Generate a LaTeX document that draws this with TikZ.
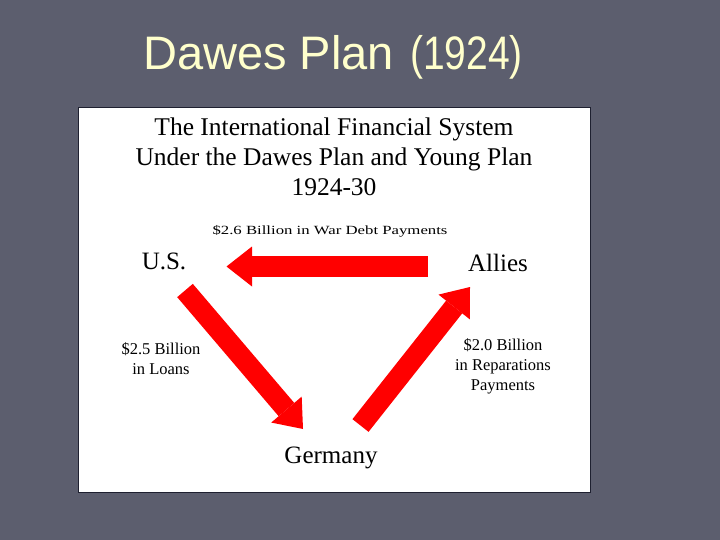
\documentclass[tikz,border=0pt]{standalone}
\usepackage{fontspec}
\setmainfont{Liberation Serif}
\newfontfamily\titlefont{Liberation Sans}
\usetikzlibrary{arrows.meta}
\definecolor{slidebg}{HTML}{5C5E6E}
\definecolor{titlecream}{HTML}{FFFFCC}
\definecolor{boxedge}{HTML}{1E2030}
\definecolor{flowred}{HTML}{FF0000}
\begin{document}
\begin{tikzpicture}[x=1pt,y=-1pt,
  flow/.style={draw=flowred, line width=20.5pt, line cap=butt,
    -{Triangle[width=40pt,length=25.5pt,line width=0pt]}},
  slidetitle/.style={font=\titlefont\fontsize{47}{50}\selectfont, text=titlecream, inner sep=0pt, anchor=base west},
  heading/.style={font=\fontsize{25.5}{30}\selectfont, align=center, inner sep=0pt, anchor=north},
  party/.style={font=\fontsize{25}{28}\selectfont, inner sep=0pt, anchor=base},
  amount/.style={font=\fontsize{16.5}{20}\selectfont, align=center, inner sep=0pt, anchor=north},
  smallamount/.style={font=\fontsize{12.5}{14}\selectfont, inner sep=0pt, anchor=base}]
\useasboundingbox (0,0) rectangle (720,540);
\fill[slidebg] (0,0) rectangle (720,540);
% slide title
\node[slidetitle] (title) at (143,70) {Dawes Plan};
\node[slidetitle] (year) at (410,70) {\scalebox{0.83}[1]{(1924)}};
% white panel
\draw[boxedge, fill=white, line width=1pt] (78,108) rectangle (590,492);
\node[heading] (head) at (334,117.5) {The International Financial System\\Under the Dawes Plan and Young Plan\\1924-30};
% parties
\node[party] (us) at (164,269) {U.S.};
\node[party] (allies) at (498,271) {Allies};
\node[party] (germany) at (331,463) {Germany};
% amounts
\node[smallamount] (debt) at (330,235) {\scalebox{1.34}[1]{\$2.6 Billion in War Debt Payments}};
\node[amount] (loans) at (161,342) {\$2.5 Billion\\in Loans};
\node[amount] (reparations) at (503,338) {\$2.0 Billion\\in Reparations\\Payments};
% flows
\coordinate (debtTail) at (428,266.5);
\coordinate (debtTip) at (226.5,266.5);
\coordinate (loanTail) at (185,290.5);
\coordinate (loanTip) at (303,429);
\coordinate (repTail) at (360.5,425.5);
\coordinate (repTip) at (470,287);
\draw[flow] (debtTail) -- (debtTip);
\draw[flow] (loanTail) -- (loanTip);
\draw[flow] (repTail) -- (repTip);
\end{tikzpicture}
\end{document}
